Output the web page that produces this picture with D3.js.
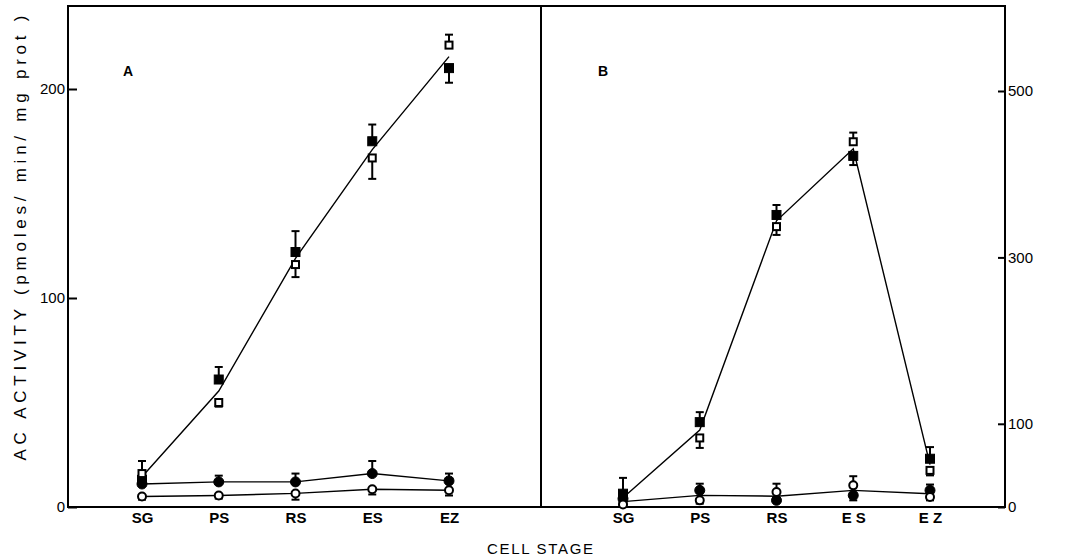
<!DOCTYPE html>
<html>
<head>
<meta charset="utf-8">
<script src="https://cdn.jsdelivr.net/npm/d3@7"></script>
<style>
  body { margin: 0; background: #fff; }
  svg { display: block; font-family: "Liberation Sans", Arial, sans-serif; }
  .tick line { stroke: #000; stroke-width: 2; }
  .tick text { font-size: 15px; fill: #000; }
  .xlab text { font-weight: bold; }
</style>
</head>
<body>
<svg id="chart" width="1067" height="558"></svg>
<script>
// cell stages
var stages = ["SG", "PS", "RS", "ES", "EZ"];

// panel A (left axis, pmoles/min/mg prot)
var aFilledSq   = [13, 61, 122, 175, 210];
var aOpenSq     = [16, 50, 116, 167, 221];
var aFilledCirc = [11, 12, 12, 16, 12.5];
var aOpenCirc   = [5, 5.5, 6.5, 8.5, 8];
// signed errors: + bar drawn upward, - bar drawn downward
var aFilledSqErr   = [0, 6, 10, 8, -7];
var aOpenSqErr     = [6, -2, -6, -10, 5];
var aFilledCircErr = [2, 3, 4, 6, 3.5];
var aOpenCircErr   = [-1.5, -1.5, -3, -2.5, -2.5];

// panel B (right axis)
var bFilledSq   = [16, 102, 351, 422, 58];
var bOpenSq     = [6, 83, 337, 439, 44];
var bFilledCirc = [10, 20, 8, 14, 20];
var bOpenCirc   = [3, 8, 18, 26, 12];
var bFilledSqErr   = [19, 12, 12, -11, 14];
var bOpenSqErr     = [0, -12, -10, 11, -6];
var bFilledCircErr = [0, 8, 0, -6, 7];
var bOpenCircErr   = [0, -4, 10, 11, -4];

var ticksA = [0, 100, 200];
var ticksB = [0, 100, 300, 500];
var labelsB = ["SG", "PS", "RS", "E S", "E Z"];

var svg = d3.select("#chart");

var boxL = 68, boxM = 541, boxR = 1005, boxT = 6, boxB = 507;

var xA = d3.scalePoint().domain(stages).range([142, 449]);
var xB = d3.scalePoint().domain(stages).range([623, 930]);
var yA = d3.scaleLinear().domain([0, 200]).range([boxB, 89]);
var yB = d3.scaleLinear().domain([0, 500]).range([boxB, 91]);

function zip(vals, errs) {
  return stages.map(function(s, i) { return {stage: s, v: vals[i], e: errs[i]}; });
}
function mean(a, b) {
  return stages.map(function(s, i) { return {stage: s, v: (a[i] + b[i]) / 2}; });
}

// frame
var frame = svg.append("g").attr("fill", "none").attr("stroke", "#000").attr("stroke-width", 2);
frame.append("rect").attr("x", boxL).attr("y", boxT).attr("width", boxR - boxL).attr("height", boxB - boxT);
frame.append("line").attr("x1", boxM).attr("x2", boxM).attr("y1", boxT).attr("y2", boxB);

// y axes
svg.append("g").attr("transform", "translate(" + boxL + ",0)")
  .call(d3.axisLeft(yA).tickValues(ticksA).tickSize(-9).tickPadding(3))
  .call(function(g) { g.select(".domain").remove(); });

svg.append("g").attr("transform", "translate(" + boxR + ",0)")
  .call(d3.axisRight(yB).tickValues(ticksB).tickSize(-7).tickPadding(3))
  .call(function(g) { g.select(".domain").remove(); });

// x labels
svg.append("g").attr("class", "xlab").attr("transform", "translate(0," + boxB + ")")
  .call(d3.axisBottom(xA).tickSize(0).tickPadding(5))
  .call(function(g) { g.select(".domain").remove(); });
svg.append("g").attr("class", "xlab").attr("transform", "translate(0," + boxB + ")")
  .call(d3.axisBottom(xB).tickSize(0).tickPadding(5)
    .tickFormat(function(d, i) { return labelsB[i]; }))
  .call(function(g) { g.select(".domain").remove(); });

// titles
svg.append("text").attr("x", 540).attr("y", 554).attr("text-anchor", "middle")
  .attr("font-size", 15).attr("textLength", 106).attr("lengthAdjust", "spacing")
  .text("CELL STAGE");

svg.append("text").attr("transform", "translate(26,238) rotate(-90)").attr("text-anchor", "middle")
  .attr("font-size", 17).attr("textLength", 445).attr("lengthAdjust", "spacing")
  .text("AC ACTIVITY (pmoles/ min/ mg prot )");

svg.append("text").attr("x", 123).attr("y", 76).attr("font-size", 14).attr("font-weight", "bold").text("A");
svg.append("text").attr("x", 598).attr("y", 76).attr("font-size", 14).attr("font-weight", "bold").text("B");

// drawing helpers
function drawLine(x, y, pts) {
  svg.append("path").datum(pts)
    .attr("fill", "none").attr("stroke", "#000").attr("stroke-width", 1.4)
    .attr("d", d3.line().x(function(d) { return x(d.stage); }).y(function(d) { return y(d.v); }));
}

function drawErr(x, y, pts) {
  var g = svg.append("g").attr("stroke", "#000").attr("stroke-width", 2);
  pts.filter(function(d) { return d.e != 0; }).forEach(function(d) {
    var cx = x(d.stage), y0 = y(d.v), y1 = y(d.v + d.e);
    g.append("line").attr("x1", cx).attr("x2", cx).attr("y1", y0).attr("y2", y1);
    g.append("line").attr("x1", cx - 4).attr("x2", cx + 4).attr("y1", y1).attr("y2", y1);
  });
}

function drawSquares(x, y, pts, filled) {
  var s = filled ? 9 : 7;
  svg.append("g").selectAll("rect").data(pts).join("rect")
    .attr("x", function(d) { return x(d.stage) - s / 2; })
    .attr("y", function(d) { return y(d.v) - s / 2; })
    .attr("width", s).attr("height", s)
    .attr("fill", filled ? "#000" : "#fff")
    .attr("stroke", "#000").attr("stroke-width", filled ? 1 : 2);
}

function drawCircles(x, y, pts, filled) {
  svg.append("g").selectAll("circle").data(pts).join("circle")
    .attr("cx", function(d) { return x(d.stage); })
    .attr("cy", function(d) { return y(d.v); })
    .attr("r", filled ? 5 : 4)
    .attr("fill", filled ? "#000" : "#fff")
    .attr("stroke", "#000").attr("stroke-width", filled ? 1 : 2);
}

function drawSeries(x, y, vals, errs, kind, filled) {
  var pts = zip(vals, errs);
  drawErr(x, y, pts);
  if (kind == "sq") drawSquares(x, y, pts, filled);
  else drawCircles(x, y, pts, filled);
}

// panel A
drawLine(xA, yA, mean(aFilledSq, aOpenSq));
drawLine(xA, yA, zip(aFilledCirc, aFilledCircErr));
drawLine(xA, yA, zip(aOpenCirc, aOpenCircErr));
drawSeries(xA, yA, aFilledSq, aFilledSqErr, "sq", true);
drawSeries(xA, yA, aOpenSq, aOpenSqErr, "sq", false);
drawSeries(xA, yA, aFilledCirc, aFilledCircErr, "c", true);
drawSeries(xA, yA, aOpenCirc, aOpenCircErr, "c", false);

// panel B
drawLine(xB, yB, mean(bFilledSq, bOpenSq));
drawLine(xB, yB, mean(bFilledCirc, bOpenCirc));
drawSeries(xB, yB, bFilledSq, bFilledSqErr, "sq", true);
drawSeries(xB, yB, bOpenSq, bOpenSqErr, "sq", false);
drawSeries(xB, yB, bFilledCirc, bFilledCircErr, "c", true);
drawSeries(xB, yB, bOpenCirc, bOpenCircErr, "c", false);
</script>
</body>
</html>
